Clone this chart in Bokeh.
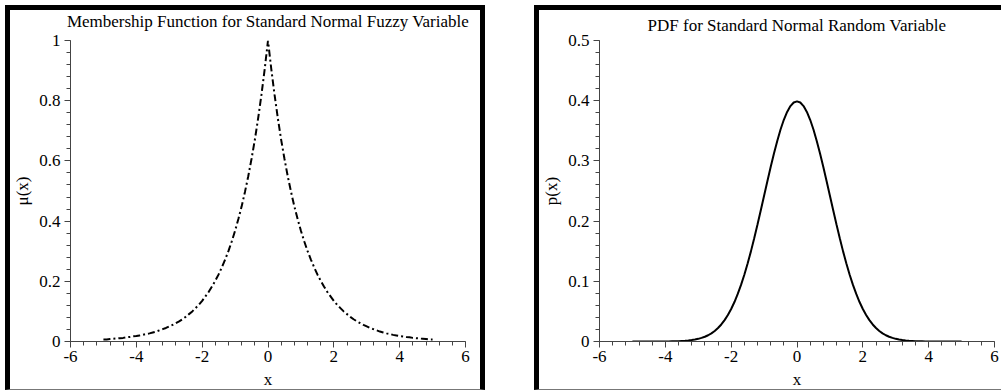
from bokeh.plotting import figure
from bokeh.layouts import row, column
from bokeh.models import (Range1d, SingleIntervalTicker, CustomJSTickFormatter,
                          Spacer, Title)
from bokeh.embed import file_html
from bokeh.resources import INLINE

# ---- data ----
x_vals = [-5.0, -4.9, -4.8, -4.7, -4.6, -4.5, -4.4, -4.3, -4.2, -4.1,
          -4.0, -3.9, -3.8, -3.7, -3.6, -3.5, -3.4, -3.3, -3.2, -3.1,
          -3.0, -2.9, -2.8, -2.7, -2.6, -2.5, -2.4, -2.3, -2.2, -2.1,
          -2.0, -1.9, -1.8, -1.7, -1.6, -1.5, -1.4, -1.3, -1.2, -1.1,
          -1.0, -0.9, -0.8, -0.7, -0.6, -0.5, -0.4, -0.3, -0.2, -0.1,
          0.0, 0.1, 0.2, 0.3, 0.4, 0.5, 0.6, 0.7, 0.8, 0.9,
          1.0, 1.1, 1.2, 1.3, 1.4, 1.5, 1.6, 1.7, 1.8, 1.9,
          2.0, 2.1, 2.2, 2.3, 2.4, 2.5, 2.6, 2.7, 2.8, 2.9,
          3.0, 3.1, 3.2, 3.3, 3.4, 3.5, 3.6, 3.7, 3.8, 3.9,
          4.0, 4.1, 4.2, 4.3, 4.4, 4.5, 4.6, 4.7, 4.8, 4.9, 5.0]

mu_vals = [0.007, 0.007, 0.008, 0.009, 0.010, 0.011, 0.012, 0.014, 0.015, 0.017,
           0.018, 0.020, 0.022, 0.025, 0.027, 0.030, 0.033, 0.037, 0.041, 0.045,
           0.050, 0.055, 0.061, 0.067, 0.074, 0.082, 0.091, 0.100, 0.111, 0.122,
           0.135, 0.150, 0.165, 0.183, 0.202, 0.223, 0.247, 0.273, 0.301, 0.333,
           0.368, 0.407, 0.449, 0.497, 0.549, 0.607, 0.670, 0.741, 0.819, 0.905,
           1.000, 0.905, 0.819, 0.741, 0.670, 0.607, 0.549, 0.497, 0.449, 0.407,
           0.368, 0.333, 0.301, 0.273, 0.247, 0.223, 0.202, 0.183, 0.165, 0.150,
           0.135, 0.122, 0.111, 0.100, 0.091, 0.082, 0.074, 0.067, 0.061, 0.055,
           0.050, 0.045, 0.041, 0.037, 0.033, 0.030, 0.027, 0.025, 0.022, 0.020,
           0.018, 0.017, 0.015, 0.014, 0.012, 0.011, 0.010, 0.009, 0.008, 0.007, 0.007]

pdf_vals = [0.0000, 0.0000, 0.0000, 0.0000, 0.0000, 0.0000, 0.0000, 0.0000, 0.0000, 0.0000,
            0.0001, 0.0002, 0.0003, 0.0004, 0.0006, 0.0009, 0.0012, 0.0017, 0.0024, 0.0033,
            0.0044, 0.0060, 0.0079, 0.0104, 0.0136, 0.0175, 0.0224, 0.0283, 0.0355, 0.0440,
            0.0540, 0.0656, 0.0790, 0.0940, 0.1109, 0.1295, 0.1497, 0.1714, 0.1942, 0.2179,
            0.2420, 0.2661, 0.2897, 0.3123, 0.3332, 0.3521, 0.3683, 0.3814, 0.3910, 0.3970,
            0.3989, 0.3970, 0.3910, 0.3814, 0.3683, 0.3521, 0.3332, 0.3123, 0.2897, 0.2661,
            0.2420, 0.2179, 0.1942, 0.1714, 0.1497, 0.1295, 0.1109, 0.0940, 0.0790, 0.0656,
            0.0540, 0.0440, 0.0355, 0.0283, 0.0224, 0.0175, 0.0136, 0.0104, 0.0079, 0.0060,
            0.0044, 0.0033, 0.0024, 0.0017, 0.0012, 0.0009, 0.0006, 0.0004, 0.0003, 0.0002,
            0.0001, 0.0000, 0.0000, 0.0000, 0.0000, 0.0000, 0.0000, 0.0000, 0.0000, 0.0000, 0.0000]

titles = ["Membership Function for Standard Normal Fuzzy Variable",
          "PDF for Standard Normal Random Variable"]
y_labels = ["\u03bc(x)", "p(x)"]
x_label = "x"

FONT = "Liberation Serif"
fmt = CustomJSTickFormatter(code="return (+tick.toFixed(3)).toString();")


def make_fig(title, ylab, ymax, yint, mbl, mbr, mbt, mbb, width, gap, styles):
    p = figure(width=width, height=385, output_backend="svg", toolbar_location=None,
               x_range=Range1d(-6, 6), y_range=Range1d(0, ymax),
               min_border_left=mbl, min_border_right=mbr,
               min_border_top=mbt, min_border_bottom=mbb)
    p.title.text = title
    p.title.align = "center"
    p.title.vertical_align = "top"
    p.title.text_font = FONT
    p.title.text_font_size = "17px"
    p.title.text_font_style = "normal"
    p.title.text_color = "black"
    p.title.standoff = 0
    # empty spacer between title and frame
    p.add_layout(Title(text=" ", text_font_size="1px", standoff=gap), "above")
    p.grid.visible = False
    p.outline_line_color = None
    p.xaxis.ticker = SingleIntervalTicker(interval=2, num_minor_ticks=5)
    p.yaxis.ticker = SingleIntervalTicker(interval=yint, num_minor_ticks=5)
    for ax in (p.xaxis, p.yaxis):
        ax.formatter = fmt
        ax.axis_line_color = "#444444"
        ax.major_tick_line_color = "#444444"
        ax.minor_tick_line_color = "#444444"
        ax.major_tick_in = 0
        ax.major_tick_out = 6
        ax.minor_tick_in = 0
        ax.minor_tick_out = 4
        ax.major_label_text_font = FONT
        ax.major_label_text_font_size = "17px"
        ax.major_label_text_color = "black"
        ax.axis_label_text_font = FONT
        ax.axis_label_text_font_size = "17px"
        ax.axis_label_text_font_style = "normal"
        ax.axis_label_text_color = "black"
    p.xaxis.axis_label = x_label
    p.yaxis.axis_label = ylab
    p.xaxis.major_label_standoff = 3
    p.xaxis.axis_label_standoff = 5
    p.yaxis.major_label_standoff = 4
    p.yaxis.axis_label_standoff = 4
    p.styles = styles
    return p


p1 = make_fig(titles[0], y_labels[0], 1.0, 0.2, 59, 25, 30, 54, 480, 5,
              {"border-top": "5px solid black", "border-left": "5px solid black",
               "border-right": "5px solid black", "border-bottom": "1px solid #777"})
p1.line(x_vals, mu_vals, line_color="black", line_width=2, line_dash="7 3 2 3")

p2 = make_fig(titles[1], y_labels[1], 0.5, 0.1, 59, 12, 27, 53, 467, 1,
              {"border-top": "5px solid black", "border-left": "5px solid black",
               "border-bottom": "1px solid #777"})
p2.line(x_vals, pdf_vals, line_color="black", line_width=2)

layout = column(Spacer(height=5),
                row(Spacer(width=5), p1, Spacer(width=49), p2))

open("out.html", "w").write(file_html(layout, INLINE))
